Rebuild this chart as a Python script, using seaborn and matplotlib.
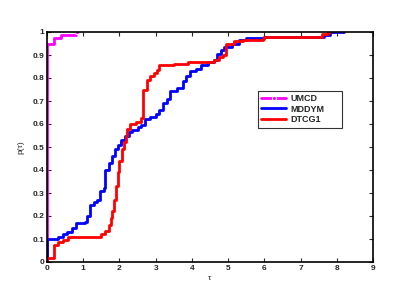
import matplotlib
matplotlib.use('Agg')
import matplotlib.pyplot as plt
import pandas as pd
import seaborn as sns

# Performance profile data (tau, p(tau)), step-post
umcd_tau = [0, 0, 0.2, 0.4, 0.8, 0.83]
umcd_p = [0, 0.95, 0.975, 0.985, 1.0, 1.0]

mddym_tau = [0, 0, 0.3, 0.45, 0.55, 0.68, 0.8, 1.05, 1.1, 1.2,
             1.3, 1.37, 1.46, 1.57, 1.6, 1.7, 1.8, 1.88, 1.95, 2.05,
             2.15, 2.25, 2.35, 2.5, 2.6, 2.7, 2.85, 3.0, 3.1, 3.2,
             3.3, 3.4, 3.6, 3.75, 3.85, 3.95, 4.1, 4.25, 4.45, 4.6,
             4.7, 4.8, 4.9, 5.1, 5.3, 5.5, 6.0, 7.65, 7.8, 8.2]
mddym_p = [0, 0.1, 0.11, 0.12, 0.13, 0.15, 0.17, 0.175, 0.2, 0.25,
           0.26, 0.27, 0.31, 0.32, 0.4, 0.43, 0.46, 0.49, 0.51, 0.53,
           0.55, 0.565, 0.575, 0.585, 0.595, 0.62, 0.63, 0.645, 0.66, 0.69,
           0.71, 0.745, 0.755, 0.785, 0.81, 0.83, 0.84, 0.855, 0.87, 0.88,
           0.905, 0.92, 0.935, 0.95, 0.965, 0.975, 0.98, 0.985, 1.0, 1.0]

dtcg1_tau = [0, 0, 0.19, 0.3, 0.45, 0.58, 1.5, 1.6, 1.7, 1.76,
             1.8, 1.85, 1.9, 1.95, 2.0, 2.06, 2.12, 2.18, 2.22, 2.28,
             2.45, 2.6, 2.66, 2.75, 2.85, 2.95, 3.05, 3.1, 3.5, 3.9,
             4.6, 4.75, 4.85, 4.94, 5.15, 5.4, 5.95, 6.0, 7.6, 7.75,
             7.8]
dtcg1_p = [0, 0.016, 0.075, 0.085, 0.095, 0.11, 0.12, 0.135, 0.16, 0.19,
           0.22, 0.27, 0.33, 0.39, 0.44, 0.49, 0.52, 0.55, 0.58, 0.6,
           0.61, 0.625, 0.75, 0.79, 0.81, 0.82, 0.835, 0.855, 0.86, 0.87,
           0.88, 0.89, 0.9, 0.95, 0.96, 0.965, 0.97, 0.98, 0.99, 1.0,
           1.0]

solvers = ['UMCD', 'MDDYM', 'DTCG1']
colors = ['#ff00ff', '#0000ff', '#ff0000']

frames = []
for name, t, p in [('UMCD', umcd_tau, umcd_p),
                   ('MDDYM', mddym_tau, mddym_p),
                   ('DTCG1', dtcg1_tau, dtcg1_p)]:
    frames.append(pd.DataFrame({'tau': t, 'p': p, 'solver': name}))
df = pd.concat(frames, ignore_index=True)

sns.set_style('white')
plt.rcParams['font.family'] = ['Liberation Sans', 'DejaVu Sans']
plt.rcParams['font.weight'] = 'bold'

fig = plt.figure(figsize=(3.99, 2.91), dpi=100)
ax = fig.add_axes([47 / 399, 1 - 262 / 291, 326 / 399, 230 / 291])

for name, c in zip(solvers, colors):
    sub = df[df['solver'] == name]
    sns.lineplot(data=sub, x='tau', y='p', ax=ax, sort=False, estimator=None,
                 drawstyle='steps-post', color=c, linewidth=2.0, label=name,
                 marker='.' if name == 'UMCD' else None, markersize=6,
                 markevery=[len(sub) - 1] if name == 'UMCD' else None)

ax.set_xlim(0, 9)
ax.set_ylim(0, 1)
ax.set_xticks(range(0, 10))
ax.set_yticks([i / 10 for i in range(11)])
ax.set_yticklabels(['0', '0.1', '0.2', '0.3', '0.4', '0.5', '0.6', '0.7', '0.8', '0.9', '1'])
ax.tick_params(direction='in', length=3, width=0.8, labelsize=6, pad=2,
               top=True, right=True, bottom=True, left=True)
for s in ax.spines.values():
    s.set_linewidth(1.2)
    s.set_color('black')
ax.set_xlabel('τ', fontsize=6, labelpad=2)
ax.set_ylabel('p(τ)', fontsize=6, labelpad=6)

leg = ax.legend(loc='upper left', bbox_to_anchor=(0.647, 0.745, 0.258, 0.0),
                mode='expand', fontsize=6.5,
                handlelength=2.8, frameon=True, fancybox=False,
                borderpad=0.35, labelspacing=0.2, handletextpad=0.5,
                borderaxespad=0)
leg.get_frame().set_edgecolor('black')
leg.get_frame().set_linewidth(0.8)

fig.savefig('out.png', dpi=100)
